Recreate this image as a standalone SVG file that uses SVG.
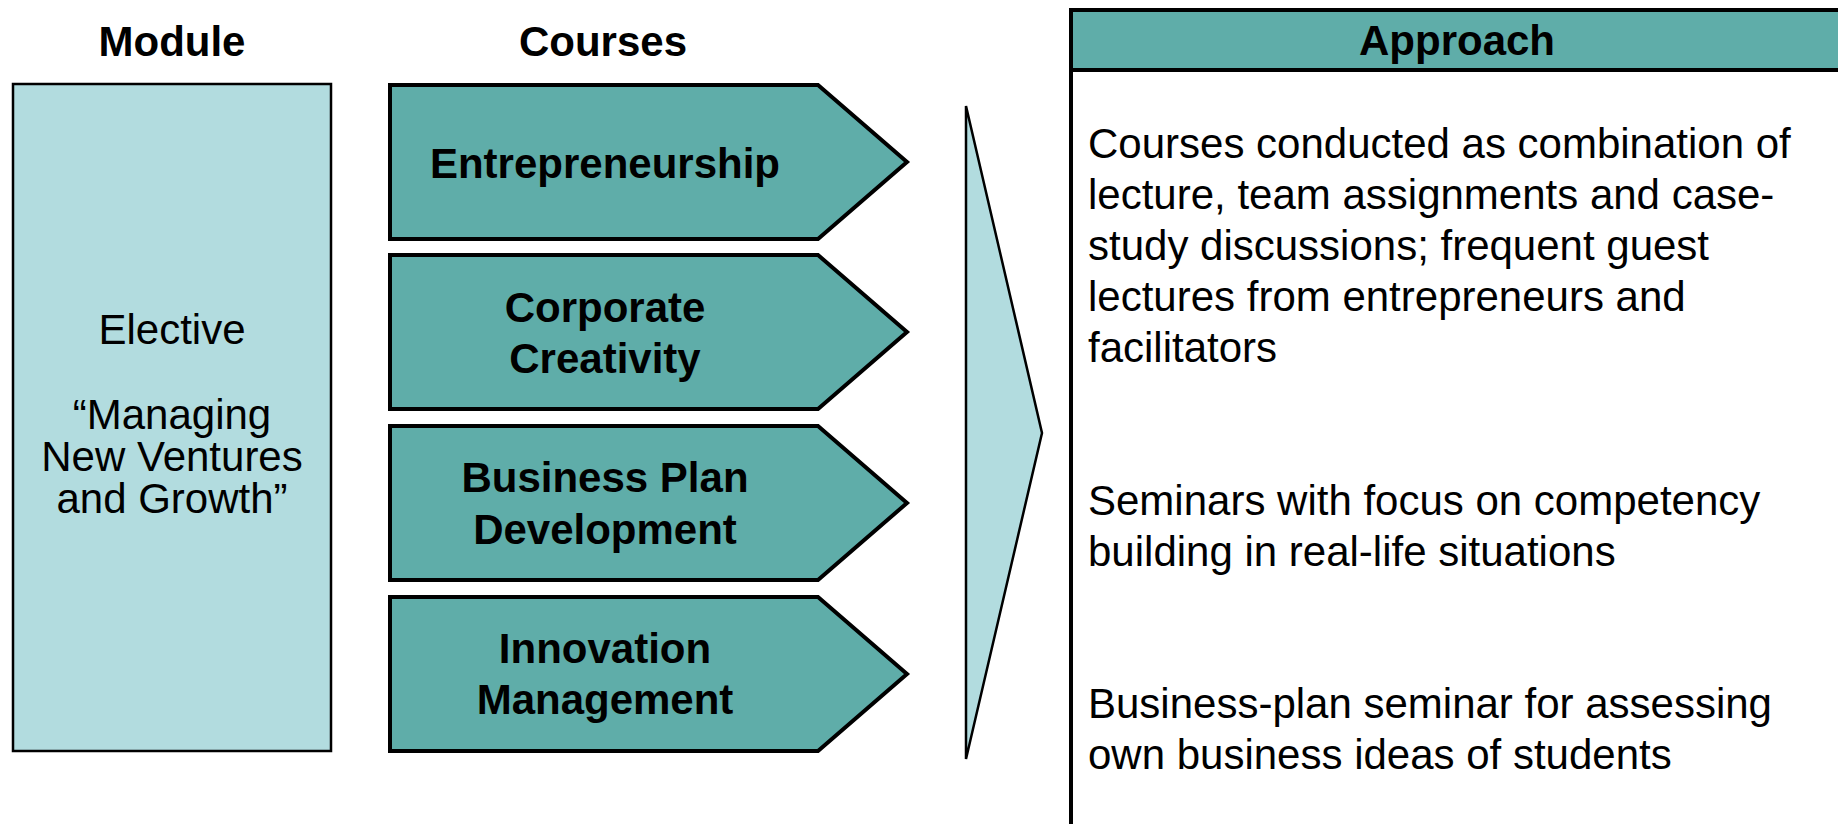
<svg xmlns="http://www.w3.org/2000/svg" width="1838" height="824" viewBox="0 0 1838 824">
<style>
text{font-family:"Liberation Sans",Arial,sans-serif;font-size:42px;fill:#000}
.b{font-weight:bold}
.c{text-anchor:middle}
.chev{fill:#5fada9;stroke:#000;stroke-width:4;stroke-linejoin:miter}
.light{fill:#b2dcdf;stroke:#000}
</style>
<rect width="1838" height="824" fill="#fff"/>
<g id="headers">
<text class="b c" x="172" y="56">Module</text>
<text class="b c" x="603" y="56">Courses</text>
</g>
<g id="module">
<rect class="light" x="13" y="84" width="318" height="667" stroke-width="2.5"/>
<text class="c" x="172" y="344">Elective</text>
<text class="c" x="172" y="429">“Managing</text>
<text class="c" x="172" y="471">New Ventures</text>
<text class="c" x="172" y="513">and Growth”</text>
</g>
<g id="course-entrepreneurship">
<polygon class="chev" points="390,85 818,85 907,162 818,239 390,239"/>
<text class="b c" x="605" y="178">Entrepreneurship</text>
</g>
<g id="course-corporate-creativity">
<polygon class="chev" points="390,255 818,255 907,332 818,409 390,409"/>
<text class="b c" x="605" y="322">Corporate</text>
<text class="b c" x="605" y="373">Creativity</text>
</g>
<g id="course-business-plan">
<polygon class="chev" points="390,426 818,426 907,503 818,580 390,580"/>
<text class="b c" x="605" y="492">Business Plan</text>
<text class="b c" x="605" y="544">Development</text>
</g>
<g id="course-innovation">
<polygon class="chev" points="390,597 818,597 907,674 818,751 390,751"/>
<text class="b c" x="605" y="663">Innovation</text>
<text class="b c" x="605" y="714">Management</text>
</g>
<g id="connectors">
<polygon class="light" points="966,106 1042,433 966,759" stroke-width="2.5" stroke-linejoin="miter"/>
</g>
<g id="approach">
<rect x="1071" y="10" width="790" height="60" fill="#5fada9"/>
<rect x="1071" y="10" width="790" height="840" fill="none" stroke="#000" stroke-width="4"/>
<line x1="1071" y1="70" x2="1861" y2="70" stroke="#000" stroke-width="4"/>
<text class="b c" x="1457" y="55">Approach</text>
<text x="1088" y="158">Courses conducted as combination of</text>
<text x="1088" y="209">lecture, team assignments and case-</text>
<text x="1088" y="260">study discussions; frequent guest</text>
<text x="1088" y="311">lectures from entrepreneurs and</text>
<text x="1088" y="362">facilitators</text>
<text x="1088" y="515">Seminars with focus on competency</text>
<text x="1088" y="566">building in real-life situations</text>
<text x="1088" y="718">Business-plan seminar for assessing</text>
<text x="1088" y="769">own business ideas of students</text>
</g>
</svg>
